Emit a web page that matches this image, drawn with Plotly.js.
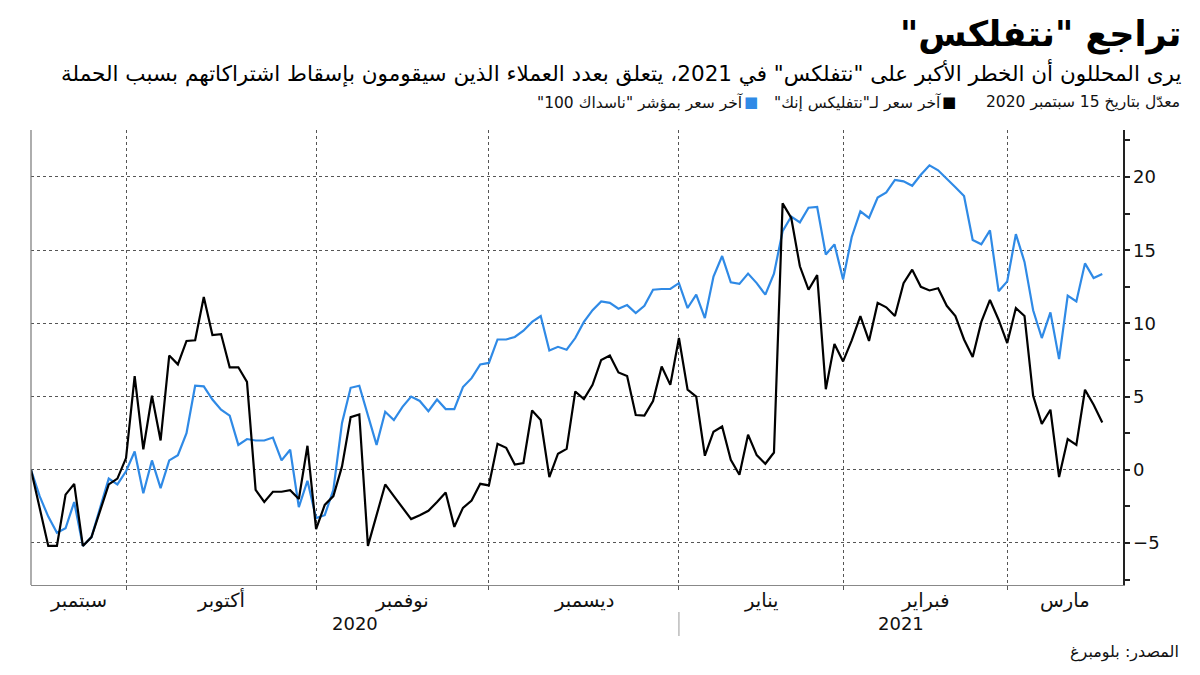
<!DOCTYPE html>
<html>
<head>
<meta charset="utf-8">
<script src="https://cdn.plot.ly/plotly-3.0.1.min.js"></script>
<style>
  body { margin: 0; background: #fff; }
  #chart { width: 1200px; height: 675px; }
</style>
</head>
<body>
<div id="chart"></div>
<script>
// % change since 15 Sep 2020, one value per trading day
const netflix = [
    0, -2.6, -5.2, -5.2, -1.7, -0.96, -5.2, -4.6, -2.8, -1.0,
    -0.6, 0.8, 6.4, 1.4, 5.06, 2.0, 7.8, 7.2, 8.8, 8.85,
    11.8, 9.2, 9.27, 7.0, 7.0, 6.0, -1.37, -2.2, -1.5, -1.5,
    -1.4, -2.0, 1.64, -4.05, -2.4, -1.8, 0.23, 3.6, 3.78, -5.2,
    -3.1, -1.0, -1.8, -2.6, -3.37, -3.1, -2.8, -2.2, -1.55, -3.9,
    -2.6, -2.1, -0.96, -1.07, 1.78, 1.5, 0.36, 0.46, 4.05, 3.4,
    -0.5, 1.1, 1.43, 5.35, 4.83, 5.8, 7.5, 7.8, 6.65, 6.4,
    3.74, 3.7, 4.7, 7.06, 5.8, 9.0, 5.47, 5.0, 0.96, 2.6,
    2.96, 0.68, -0.34, 2.4, 1.0, 0.41, 1.18, 18.2, 17.2, 13.9,
    12.3, 13.3, 5.5, 8.6, 7.4, 8.84, 10.5, 8.8, 11.4, 11.1,
    10.5, 12.75, 13.67, 12.5, 12.25, 12.4, 11.2, 10.5, 8.9, 7.7,
    10.1, 11.6, 10.25, 8.66, 11.05, 10.5, 5.05, 3.14, 4.1, -0.5,
    2.1, 1.7, 5.47, 4.44, 3.23
];
const nasdaq = [
    0, -1.8, -3.2, -4.3, -4.0, -2.2, -5.2, -4.6, -2.6, -0.6,
    -1.0, -0.1, 1.25, -1.6, 0.64, -1.25, 0.64, 1.0, 2.5, 5.74,
    5.7, 4.8, 4.1, 3.7, 1.7, 2.1, 2.0, 2.0, 2.2, 0.64,
    1.37, -2.55, -0.75, -3.3, -3.1, -1.37, 3.2, 5.6, 5.74, 3.7,
    1.7, 3.96, 3.4, 4.3, 5.0, 4.7, 4.0, 4.8, 4.15, 4.15,
    5.65, 6.26, 7.2, 7.3, 8.9, 8.9, 9.07, 9.5, 10.1, 10.5,
    8.15, 8.4, 8.2, 9.0, 10.1, 10.9, 11.5, 11.4, 11.0, 11.25,
    10.7, 11.2, 12.3, 12.35, 12.35, 12.75, 11.05, 11.96, 10.36, 13.2,
    14.6, 12.8, 12.7, 13.4, 12.75, 11.96, 13.4, 16.3, 17.3, 16.9,
    17.9, 17.95, 14.7, 15.4, 13.0, 15.9, 17.65, 17.2, 18.6, 18.95,
    19.8, 19.7, 19.4, 20.15, 20.8, 20.46, 19.9, 19.3, 18.7, 15.7,
    15.4, 16.35, 12.2, 12.87, 16.1, 14.2, 10.9, 9.0, 10.75, 7.56,
    11.9, 11.5, 14.1, 13.1, 13.37
];

// trading-day index of the last day of each month (Sep..Feb)
const monthBounds = [11, 33, 53, 75, 94, 113];
const monthNames = ['سبتمبر', 'أكتوبر', 'نوفمبر', 'ديسمبر', 'يناير', 'فبراير', 'مارس'];
const yearNames = ['2020', '2021'];
const yearBreak = 75;

const xMax = 126.4;
const yRange = [-7.87, 23.21];

// plot box in pixels, used to place the header/footer text
const L = 31, R = 1123, T = 130, B = 585;
const px = x => (x - L) / (R - L);
const py = y => (B - y) / (B - T);

const RLM = '\u200F';
const rtl = s => RLM + s + RLM;

const days = netflix.map((_, i) => i);

const traces = [
    {
        x: days, y: nasdaq, type: 'scatter', mode: 'lines',
        line: {color: '#2f8ae6', width: 2.2}, hoverinfo: 'skip'
    },
    {
        x: days, y: netflix, type: 'scatter', mode: 'lines',
        line: {color: '#000000', width: 2.2}, hoverinfo: 'skip'
    }
];

const arabicFont = 'DejaVu Sans, sans-serif';
const annotations = [];

// month labels centred in each month span
const edges = [0, ...monthBounds, xMax];
monthNames.forEach((m, i) => {
    annotations.push({
        x: (edges[i] + edges[i + 1]) / 2, xref: 'x',
        y: py(600), yref: 'paper',
        text: m, showarrow: false, xanchor: 'center', yanchor: 'middle',
        font: {family: arabicFont, size: 19.5, color: '#111'}
    });
});
const yearEdges = [0, yearBreak, xMax];
yearNames.forEach((yr, i) => {
    annotations.push({
        x: (yearEdges[i] + yearEdges[i + 1]) / 2, xref: 'x',
        y: py(623), yref: 'paper',
        text: yr, showarrow: false, xanchor: 'center', yanchor: 'middle',
        font: {family: arabicFont, size: 18, color: '#111'}
    });
});

// header
annotations.push({
    x: px(1183), xref: 'paper', y: py(34), yref: 'paper',
    text: '<b>' + rtl('تراجع "نتفلكس"') + '</b>',
    showarrow: false, xanchor: 'right', yanchor: 'middle',
    font: {family: arabicFont, size: 35, color: '#000'}
});
annotations.push({
    x: px(1183), xref: 'paper', y: py(73), yref: 'paper',
    text: rtl('يرى المحللون أن الخطر الأكبر على "نتفلكس" في 2021، يتعلق بعدد العملاء الذين سيقومون بإسقاط اشتراكاتهم بسبب الحملة'),
    showarrow: false, xanchor: 'right', yanchor: 'middle',
    font: {family: arabicFont, size: 21.5, color: '#000'}
});

// legend row
const legendItems = [
    {text: 'معدّل بتاريخ 15 سبتمبر 2020', right: 1182, square: null},
    {text: 'آخر سعر لـ"نتفليكس إنك"', right: 943, square: '#000000', sq: 949},
    {text: 'آخر سعر بمؤشر "ناسداك 100"', right: 745, square: '#2f8ae6', sq: 751}
];
legendItems.forEach(item => {
    annotations.push({
        x: px(item.right), xref: 'paper', y: py(102), yref: 'paper',
        text: rtl(item.text), showarrow: false, xanchor: 'right', yanchor: 'middle',
        font: {family: arabicFont, size: 15.5, color: '#111'}
    });
    if (item.square) {
        annotations.push({
            x: px(item.sq), xref: 'paper', y: py(102), yref: 'paper',
            text: '■', showarrow: false, xanchor: 'center', yanchor: 'middle',
            font: {family: arabicFont, size: 15, color: item.square}
        });
    }
});

// source
annotations.push({
    x: px(1181), xref: 'paper', y: py(652), yref: 'paper',
    text: rtl('المصدر: بلومبرغ'), showarrow: false, xanchor: 'right', yanchor: 'middle',
    font: {family: arabicFont, size: 16, color: '#111'}
});

const shapes = [
    // left frame line
    {type: 'line', xref: 'paper', yref: 'paper', x0: 0, x1: 0, y0: 0, y1: 1,
     line: {color: '#777', width: 1.2}},
    // separator between the years
    {type: 'line', xref: 'x', yref: 'paper', x0: yearBreak, x1: yearBreak,
     y0: py(612), y1: py(636), line: {color: '#999', width: 1}}
];

const layout = {
    width: 1200, height: 675,
    margin: {l: L, r: 1200 - R, t: T, b: 675 - B},
    paper_bgcolor: '#fff', plot_bgcolor: '#fff',
    showlegend: false,
    xaxis: {
        range: [0, xMax],
        tickmode: 'array', tickvals: monthBounds,
        showticklabels: false,
        showgrid: true, gridcolor: '#555', griddash: 'dot', gridwidth: 1,
        ticks: 'outside', ticklen: 4, tickcolor: '#555',
        showline: true, linecolor: '#888', linewidth: 1.2,
        zeroline: false, fixedrange: true
    },
    yaxis: {
        side: 'right', range: yRange,
        tick0: 0, dtick: 5,
        showgrid: true, gridcolor: '#555', griddash: 'dot', gridwidth: 1,
        ticks: 'outside', ticklen: 5, tickwidth: 2, tickcolor: '#222',
        minor: {dtick: 2.5, tick0: 0, ticks: 'outside', ticklen: 5, tickcolor: '#222', showgrid: false},
        showline: true, linecolor: '#222', linewidth: 1.5,
        zeroline: false,
        tickfont: {family: 'DejaVu Sans, sans-serif', size: 18, color: '#111'},
        fixedrange: true
    },
    annotations: annotations,
    shapes: shapes
};

Plotly.newPlot('chart', traces, layout, {displayModeBar: false, staticPlot: true});
</script>
</body>
</html>
